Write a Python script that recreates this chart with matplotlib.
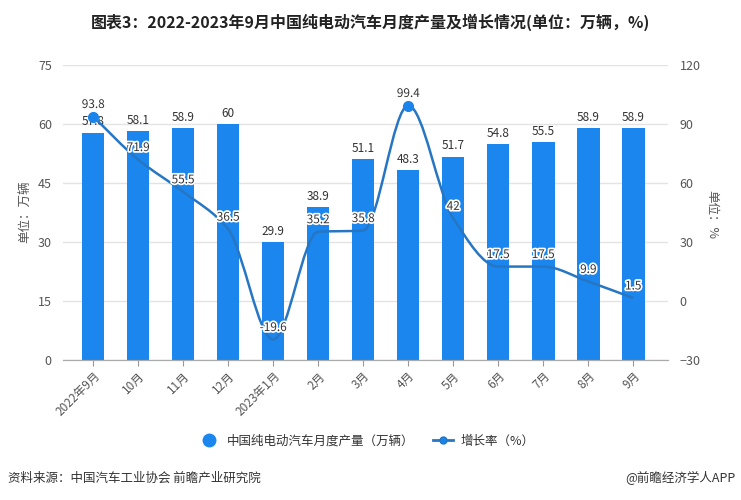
import matplotlib
matplotlib.use("Agg")
import matplotlib.pyplot as plt
import matplotlib.patheffects as pe
from matplotlib.path import Path
from matplotlib.patches import PathPatch
from matplotlib.lines import Line2D
import numpy as np

plt.rcParams['font.family'] = ['Noto Sans CJK SC', 'DejaVu Sans']

months = ['2022年9月', '10月', '11月', '12月', '2023年1月', '2月', '3月',
          '4月', '5月', '6月', '7月', '8月', '9月']
output = [57.8, 58.1, 58.9, 60, 29.9, 38.9, 51.1, 48.3, 51.7, 54.8, 55.5, 58.9, 58.9]
growth = [93.8, 71.9, 55.5, 36.5, -19.6, 35.2, 35.8, 99.4, 42, 17.5, 17.5, 9.9, 1.5]

bar_color = '#1a86ee'
line_color = '#2676c4'
grid_color = '#e3e3e3'
text_color = '#555555'

fig = plt.figure(figsize=(7.41, 5), dpi=100)
ax = fig.add_axes([0.085, 0.28, 0.817, 0.59])
ax2 = ax.twinx()

x = np.arange(len(months))
ax.bar(x, output, width=0.5, color=bar_color, zorder=2)
for xi, v in zip(x, output):
    ax.annotate(f'{v:g}', (xi, v), xytext=(0, 3), textcoords='offset points',
                ha='center', va='bottom', fontsize=8.5, color='#333333', zorder=5)

ax.set_ylim(0, 75)
ax.set_yticks([0, 15, 30, 45, 60, 75])
ax2.set_ylim(-30, 120)
ax2.set_yticks([-30, 0, 30, 60, 90, 120])
ax.set_xlim(-0.67, 12.78)
ax.set_xticks(x)
ax.set_xticklabels(months, rotation=45, ha='right', rotation_mode='anchor',
                   fontsize=8.5, color=text_color)
ax.tick_params(axis='x', length=4, color='#999999', pad=3)
ax.tick_params(axis='y', length=0, labelsize=9, labelcolor=text_color, pad=8)
ax2.tick_params(axis='y', length=0, labelsize=9, labelcolor=text_color, pad=8)
ax.yaxis.grid(True, color=grid_color, linewidth=1, zorder=0)
ax.set_axisbelow(True)
for a in (ax, ax2):
    for s in ('top', 'left', 'right'):
        a.spines[s].set_visible(False)
    a.spines['bottom'].set_color('#aaaaaa')

# smooth growth line: monotone cubic bezier through the points
g = np.array(growth, dtype=float)
n = len(g)
dlt = np.diff(g)
tang = np.zeros(n)
tang[0], tang[-1] = dlt[0], dlt[-1]
for i in range(1, n - 1):
    a, b = dlt[i - 1], dlt[i]
    tang[i] = 0.0 if a * b <= 0 else 2 * a * b / (a + b)
verts = [(x[0], g[0])]
codes = [Path.MOVETO]
for i in range(n - 1):
    verts += [(x[i] + 1 / 3, g[i] + tang[i] / 3),
              (x[i + 1] - 1 / 3, g[i + 1] - tang[i + 1] / 3),
              (x[i + 1], g[i + 1])]
    codes += [Path.CURVE4] * 3
ax2.add_patch(PathPatch(Path(verts, codes), fill=False, edgecolor=line_color,
                        linewidth=1.8, zorder=3))
imax = int(np.argmax(g))
ax2.plot([x[0], x[imax]], [g[0], g[imax]], 'o', color='#1a84ea', markersize=7,
         zorder=4, linestyle='none')
for xi, v in zip(x, growth):
    ax2.annotate(f'{v:g}', (xi, v), xytext=(0, 4), textcoords='offset points',
                 ha='center', va='bottom', fontsize=8.5, color='#333333', zorder=6,
                 path_effects=[pe.withStroke(linewidth=2.5, foreground='white')])

fig.text(0.5, 1 - 22 / 500, '图表3：2022-2023年9月中国纯电动汽车月度产量及增长情况(单位：万辆，%)',
         ha='center', va='center', fontsize=11.5, fontweight='bold', color='#222222')
fig.text(25 / 741, 1 - 212 / 500, '单位：万辆', rotation=90, ha='center', va='center',
         fontsize=9, color=text_color)
fig.text(712 / 741, 1 - 215 / 500, '单位：%', rotation=-90, ha='center', va='center',
         fontsize=9, color=text_color)

handles = [Line2D([], [], marker='o', color=bar_color, linestyle='none', markersize=9),
           Line2D([], [], marker='o', color=line_color, markerfacecolor='#1a84ea',
                  markersize=5, linewidth=2)]
labels = ['中国纯电动汽车月度产量（万辆）', '增长率（%）']
fig.legend(handles, labels, loc='center', bbox_to_anchor=(0.495, 1 - 441 / 500), ncol=2,
           frameon=False, fontsize=9, columnspacing=1.5, handlelength=1.6,
           handletextpad=0.6, labelcolor='#333333')

fig.text(8 / 741, 1 - 478 / 500, '资料来源：中国汽车工业协会 前瞻产业研究院', ha='left',
         va='center', fontsize=9, color='#333333')
fig.text(735 / 741, 1 - 478 / 500, '@前瞻经济学人APP', ha='right', va='center',
         fontsize=9, color='#333333')

fig.savefig('out.png', dpi=100)
